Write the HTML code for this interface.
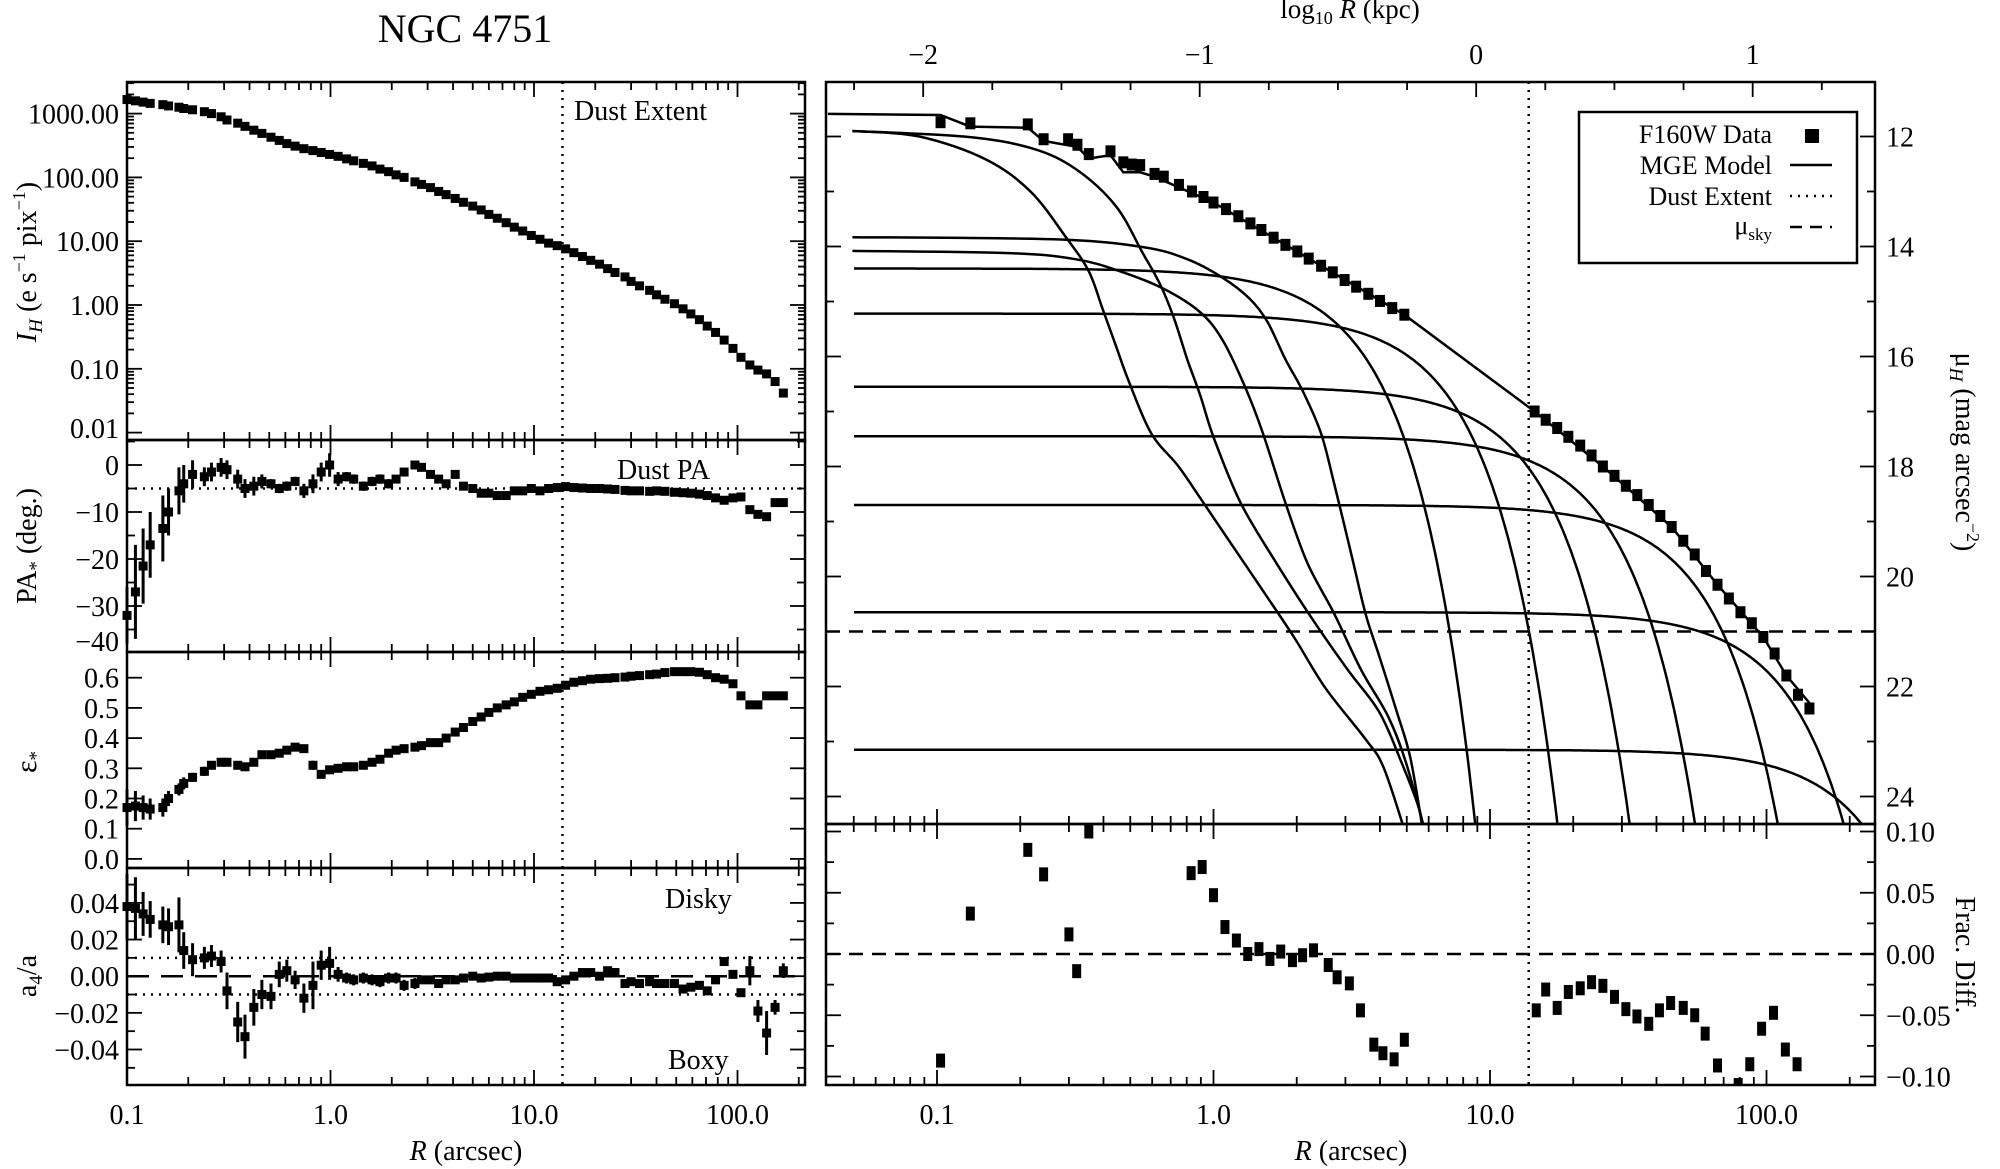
<!DOCTYPE html>
<html><head><meta charset="utf-8"><style>
html,body{margin:0;padding:0;background:#fff;}
svg{display:block;font-family:"Liberation Serif","DejaVu Serif",serif;}
</style></head><body>
<svg id="fig" xmlns="http://www.w3.org/2000/svg" width="2000" height="1169" viewBox="0 0 2000 1169">
<rect x="0" y="0" width="2000" height="1169" fill="#fff"/>
<defs>
<clipPath id="clipMu"><rect x="826" y="82" width="1049" height="742"/></clipPath>
<clipPath id="clipFrac"><rect x="826" y="824" width="1049" height="261"/></clipPath>
</defs>
<text x="465" y="42" font-size="40" text-anchor="middle">NGC 4751</text>
<text x="1350" y="18" font-size="27" text-anchor="middle">log<tspan font-size="18" dy="6">10</tspan><tspan dy="-6" font-style="italic"> R</tspan> (kpc)</text>
<text x="466" y="1160" font-size="28" text-anchor="middle"><tspan font-style="italic">R</tspan> (arcsec)</text>
<text x="1351" y="1160" font-size="28" text-anchor="middle"><tspan font-style="italic">R</tspan> (arcsec)</text>
<text transform="translate(36,262) rotate(-90)" font-size="28" text-anchor="middle"><tspan font-style="italic">I</tspan><tspan font-style="italic" font-size="19" dy="6">H</tspan><tspan dy="-6"> (e s</tspan><tspan font-size="18" dy="-11">−1</tspan><tspan dy="11"> pix</tspan><tspan font-size="18" dy="-11">−1</tspan><tspan dy="11">)</tspan></text>
<text transform="translate(36,546) rotate(-90)" font-size="28" text-anchor="middle">PA<tspan font-size="19" dy="6">*</tspan><tspan dy="-6"> (deg.)</tspan></text>
<text transform="translate(36,762) rotate(-90)" font-size="30" text-anchor="middle">ε<tspan font-size="19" dy="6">*</tspan></text>
<text transform="translate(36,976) rotate(-90)" font-size="28" text-anchor="middle">a<tspan font-size="19" dy="6">4</tspan><tspan dy="-6">/a</tspan></text>
<text transform="translate(1956,452) rotate(90)" font-size="28" text-anchor="middle">μ<tspan font-style="italic" font-size="19" dy="6">H</tspan><tspan dy="-6"> (mag arcsec</tspan><tspan font-size="18" dy="-11">−2</tspan><tspan dy="11">)</tspan></text>
<text transform="translate(1956,955) rotate(90)" font-size="28" text-anchor="middle">Frac. Diff.</text>
<text x="574" y="120" font-size="28">Dust Extent</text>
<text x="617" y="479" font-size="28">Dust PA</text>
<text x="665" y="908" font-size="28">Disky</text>
<text x="668" y="1069" font-size="28">Boxy</text>
<g id="plot"></g>
<g>
<rect x="1579" y="112" width="278" height="151" fill="#fff" stroke="#000" stroke-width="2.5"/>
<text x="1772" y="143" font-size="26" text-anchor="end">F160W Data</text>
<rect x="1805" y="129" width="14" height="14" fill="#000"/>
<text x="1772" y="174" font-size="26" text-anchor="end">MGE Model</text>
<line x1="1790" y1="165" x2="1832" y2="165" stroke="#000" stroke-width="2.5"/>
<text x="1772" y="205" font-size="26" text-anchor="end">Dust Extent</text>
<line x1="1790" y1="196" x2="1832" y2="196" stroke="#000" stroke-width="2.5" stroke-dasharray="2,6"/>
<text x="1772" y="234" font-size="26" text-anchor="end">μ<tspan font-size="17" dy="6">sky</tspan></text>
<line x1="1790" y1="227" x2="1832" y2="227" stroke="#000" stroke-width="2.5" stroke-dasharray="12,8"/>
</g>
</svg>
<script>
// ---------- data ----------
const radii = [0.10,0.11,0.12,0.13,0.15,0.16,0.18,0.19,0.21,0.24,0.26,0.29,0.31,0.35,0.38,0.42,0.46,0.51,0.56,0.61,0.67,0.74,0.82,0.90,0.99,1.09,1.2,1.3,1.45,1.6,1.75,1.93,2.1,2.3,2.6,2.8,3.1,3.4,3.7,4.1,4.5,5.0,5.5,6.0,6.6,7.3,8.0,8.8,9.7,10.7,11.8,13,14.3,15.7,17.3,19,21,23,25,28,30,33,37,40,44,49,54,59,65,71,78,86,95,104,115,126,139,153,168];
const intensityLog10 = [3.22,3.20,3.18,3.16,3.14,3.12,3.10,3.08,3.06,3.03,3.00,2.95,2.90,2.85,2.80,2.74,2.69,2.63,2.58,2.53,2.49,2.45,2.42,2.39,2.36,2.33,2.29,2.26,2.22,2.18,2.13,2.09,2.04,2.00,1.93,1.89,1.84,1.78,1.73,1.67,1.61,1.55,1.49,1.42,1.36,1.29,1.22,1.16,1.09,1.03,0.97,0.93,0.88,0.82,0.76,0.70,0.64,0.57,0.51,0.44,0.37,0.30,0.23,0.16,0.09,0.02,-0.06,-0.14,-0.23,-0.33,-0.43,-0.55,-0.68,-0.82,-0.94,-1.02,-1.08,-1.20,-1.38];
const paValues = [-32,-27,-21.5,-17,-13.5,-10,-5.5,-4,-2,-2.5,-1.5,-0.5,-1,-3,-5,-4.5,-3.5,-4,-5,-4.5,-3.5,-5.5,-4,-1.5,0,-3,-2.5,-3,-4.5,-3.5,-3,-4,-3,-1.5,0,-0.5,-2,-3,-4,-2,-4.5,-5,-6,-6,-6.5,-6.5,-5.5,-5.5,-5,-5.5,-5,-4.8,-4.6,-4.8,-4.9,-5,-5,-5.1,-5.2,-5.4,-5.5,-5.5,-5.6,-5.5,-5.6,-5.8,-5.9,-6,-6.2,-6.5,-7,-7.5,-7,-6.8,-9.5,-10.5,-11,-8,-8];
const paErrors = [6,10,8,7,7,5,5,4,3,2,2,2,2,2,2,2,1.5,1,1,1,1,1.5,2,2,2.5,1.5,1,1,1,1,1,1,0.5,0.5,0.5,0.3,0.3,0.3,0.3,0.3,0.3,0.3,0.3,0.3,0.3,0.3,0.3,0.3,0.3,0.3,0.3,0.3,0.3,0.3,0.3,0.3,0.3,0.3,0.3,0.3,0.3,0.3,0.3,0.3,0.3,0.3,0.3,0.3,0.3,0.3,0.3,0.3,0.3,0.3,0.3,0.3,0.3,0.3,0.3];
const ellValues = [.17,.175,.17,.165,.17,.20,.23,.25,.27,.29,.31,.32,.32,.31,.305,.32,.345,.345,.35,.36,.37,.365,.31,.28,.295,.30,.305,.305,.31,.32,.33,.35,.36,.365,.37,.375,.385,.385,.40,.42,.435,.455,.47,.485,.50,.51,.52,.535,.545,.555,.56,.565,.575,.585,.59,.595,.597,.598,.60,.602,.605,.607,.61,.612,.617,.62,.62,.62,.618,.61,.60,.595,.58,.54,.51,.51,.54,.54,.54];
const ellErrors = [.06,.05,.04,.035,.03,.025,.02,.02,.015,.015,.01,.01,.01,.01,.01,.01,.01,.01,.01,.01,.008,.008,.015,.01,.008,.004,.004,.004,.004,.004,.004,.004,.004,.004,.004,.004,.004,.004,.004,.004,.004,.004,.004,.004,.004,.004,.004,.004,.004,.004,.004,.004,.004,.004,.004,.004,.004,.004,.004,.004,.004,.004,.004,.004,.004,.004,.004,.004,.004,.004,.004,.004,.004,.004,.004,.004,.004,.004,.004];
const a4Values = [.038,.037,.034,.031,.028,.027,.028,.014,.009,.010,.011,.008,-.008,-.025,-.033,-.017,-.010,-.011,.001,.003,-.002,-.012,-.005,.006,.007,.001,-.001,-.002,-.001,-.002,-.003,-.001,-.001,-.005,-.004,-.002,-.002,-.004,-.002,-.002,-.001,0,-.001,-.0005,0,0,-.001,-.001,-.001,-.001,-.001,-.003,-.002,0,.002,.002,0,.003,.002,-.004,-.003,-.004,-.003,-.004,-.004,-.004,-.007,-.006,-.005,-.008,-.002,.008,.001,-.009,.003,-.019,-.031,-.017,.003];
const a4Errors = [.018,.017,.012,.01,.01,.01,.015,.01,.009,.006,.006,.006,.01,.011,.012,.01,.008,.007,.007,.006,.005,.008,.013,.008,.009,.004,.003,.003,.003,.003,.003,.003,.003,.003,.003,.002,.002,.002,.002,.002,.002,.002,.002,.002,.002,.002,.002,.002,.002,.002,.002,.002,.002,.002,.002,.002,.002,.002,.002,.002,.002,.002,.002,.002,.002,.002,.002,.002,.002,.002,.002,.002,.002,.002,.008,.006,.012,.004,.004];
const dustExtentArcsec = 13.8;
const dustPA = -5;
const a4Band = 0.01;
const muSky = 21.0;
const kpcLogOffset = 0.95;
const dataR = [0.103,0.132,0.213,0.243,0.298,0.322,0.354,0.424,0.472,0.506,0.543,0.612,0.661,0.75,0.836,0.92,1.0,1.11,1.23,1.36,1.49,1.65,1.82,2.01,2.21,2.45,2.70,2.98,3.28,3.63,4.0,4.43,4.90,14.5,15.9,17.5,19.2,21.2,23.3,25.6,28.2,31.0,34.1,37.5,41.3,45.4,50.0,55.0,60.4,66.5,73.1,80.5,88.5,97.4,107,118,130,143];
const dataMu = [11.74,11.76,11.78,12.05,12.05,12.15,12.32,12.27,12.47,12.51,12.52,12.68,12.73,12.88,13.0,13.1,13.2,13.32,13.45,13.58,13.70,13.84,13.97,14.09,14.22,14.35,14.47,14.61,14.73,14.86,14.99,15.12,15.24,17.0,17.15,17.3,17.46,17.62,17.8,18.0,18.17,18.35,18.52,18.7,18.9,19.1,19.35,19.6,19.9,20.15,20.4,20.65,20.85,21.1,21.4,21.8,22.15,22.4];
const modelR = [0.0403,0.103,0.132,0.213,0.243,0.322,0.354,0.424,0.472,0.543,0.612,1.0,4.9,14.5,25.6,45.4,66.5,97.4,118,143];
const modelMu = [11.59,11.61,11.82,11.84,12.08,12.19,12.4,12.34,12.65,12.65,12.73,13.2,15.24,17.0,18.0,19.1,20.15,21.1,21.8,22.3];
// inner (non-Gaussian, shouldered) components: log10 R (arcsec) and mu
const innerALogR = [-1.306,-1.064,-0.822,-0.660,-0.531,-0.451,-0.402,-0.354,-0.305,-0.225,-0.128,-0.047,0.066,0.179,0.292,0.405,0.550,0.615,0.696];
const innerAMu = [11.90,12.0,12.42,13.01,13.85,14.45,15.12,15.79,16.47,17.40,17.99,18.58,19.42,20.26,21.11,22.03,22.96,23.47,24.69];
const innerBLogR = [-1.306,-0.903,-0.660,-0.499,-0.354,-0.257,-0.192,-0.144,-0.095,-0.047,0.001,0.098,0.228,0.357,0.486,0.599,0.680,0.744,0.760];
const innerBMu = [11.90,12.0,12.21,12.59,13.26,14.11,14.70,15.29,16.05,16.72,17.48,18.66,19.76,20.77,21.70,22.46,23.38,24.23,24.69];
const innerCLogR = [-1.306,-0.580,-0.257,-0.095,0.034,0.131,0.195,0.260,0.324,0.389,0.437,0.502,0.550,0.599,0.663,0.712,0.760];
const innerCMu = [13.83,13.87,14.01,14.23,14.57,14.95,15.37,16.05,16.64,17.40,18.32,19.67,20.68,21.44,22.46,23.30,24.69];
const innerDLogR = [-1.306,-0.741,-0.499,-0.338,-0.176,-0.047,0.034,0.114,0.179,0.260,0.340,0.437,0.534,0.631,0.696,0.768];
const innerDMu = [14.08,14.12,14.23,14.45,14.78,15.20,15.71,16.55,17.40,18.66,19.76,20.68,21.70,22.54,23.38,24.69];
const compMu0 = [14.40,15.22,16.55,17.45,18.7,20.65,23.15];
const compSigma = [2.05,4.24,8.36,15.3,33.6,71.4,140];
const fracR = [0.103,0.132,0.213,0.243,0.30,0.32,0.354,0.83,0.91,1.0,1.10,1.21,1.33,1.46,1.60,1.75,1.93,2.1,2.3,2.6,2.8,3.1,3.4,3.8,4.1,4.5,4.9,14.7,15.9,17.5,19.2,21.2,23.3,25.6,28.2,31,34,37.5,41,45,50,55,60,66.5,79,87,96,106,117,129];
const fracVal = [-0.087,0.033,0.085,0.065,0.016,-0.014,0.10,0.066,0.071,0.048,0.022,0.011,0,0.004,-0.004,0.002,-0.005,-0.001,0.003,-0.009,-0.019,-0.024,-0.046,-0.074,-0.081,-0.086,-0.07,-0.046,-0.029,-0.044,-0.031,-0.028,-0.023,-0.026,-0.035,-0.045,-0.051,-0.057,-0.046,-0.04,-0.044,-0.05,-0.065,-0.091,-0.107,-0.09,-0.061,-0.048,-0.078,-0.09];
const intensityTickLabels = ['0.01','0.10','1.00','10.00','100.00','1000.00'];
const intensityTickValues = [0.01,0.1,1,10,100,1000];
const paTickValues = [0,-10,-20,-30,-40];
const paTickLabels = ['0','−10','−20','−30','−40'];
const ellTickValues = [0,0.1,0.2,0.3,0.4,0.5,0.6];
const ellTickLabels = ['0.0','0.1','0.2','0.3','0.4','0.5','0.6'];
const a4TickValues = [0.04,0.02,0,-0.02,-0.04];
const a4TickLabels = ['0.04','0.02','0.00','−0.02','−0.04'];
const muTickValues = [12,14,16,18,20,22,24];
const muTickLabels = ['12','14','16','18','20','22','24'];
const fracTickValues = [0.10,0.05,0,-0.05,-0.10];
const fracTickLabels = ['0.10','0.05','0.00','−0.05','−0.10'];
const kpcTickValues = [-2,-1,0,1];
const kpcTickLabels = ['−2','−1','0','1'];
const arcsecTickValues = [0.1,1,10,100];
const arcsecTickLabels = ['0.1','1.0','10.0','100.0'];

// ---------- axes ----------
const NS='http://www.w3.org/2000/svg';
const root=document.getElementById('plot');
function mk(tag,attrs,parent){const e=document.createElementNS(NS,tag);for(const k in attrs)e.setAttribute(k,attrs[k]);parent.appendChild(e);return e;}
const L={x0:127,x1:805}, R={x0:826,x1:1875};
const xLeft=r=>127+(Math.log10(r)+1)*203.5;
const xRight=r=>937+(Math.log10(r)+1)*276.5;
const xRightLog=lg=>937+(lg+1)*276.5;
const xKpc=k=>xRight(Math.pow(10,k+kpcLogOffset));
const yInt=v=>113.6-(Math.log10(v)-3)*63.8;
const yPA=v=>465-v*4.7;
const yEll=v=>858.9-v*302;
const yA4=v=>976.2-v*1832.5;
const yMu=v=>136.5+(v-12)*55;
const yFrac=v=>954-v*1225;

function tickLine(p,x1,y1,x2,y2,name){
  const t=mk('line',{x1:x1,y1:y1,x2:x2,y2:y2,stroke:'#000','stroke-width':1.8},p);
  
  
}
function label(p,x,y,txt,anchor,name,size){
  const t=mk('text',{x:x,y:y,'font-size':size||28,'text-anchor':anchor},p);
  t.textContent=txt;
  
  
}
function frame(x0,y0,x1,y1,name){
  const r=mk('rect',{x:x0,y:y0,width:x1-x0,height:y1-y0,fill:'none',stroke:'#000','stroke-width':2.5},root);
  
  
}
function xLogTicks(xf,x0,x1,yEdge,dir,name){
  for(let d=-2;d<=2;d++)for(let m=1;m<=9;m++){const v=m*Math.pow(10,d);const x=xf(v);if(x<x0+1||x>x1-1)continue;tickLine(root,x,yEdge,x,yEdge+dir*(m===1?15:8),name);}
}
function yTicksBoth(yf,vals,y0,y1,x0,x1,len,name){
  vals.forEach(v=>{const y=yf(v);if(y<y0+1||y>y1-1)return;tickLine(root,x0,y,x0+len,y,name);tickLine(root,x1,y,x1-len,y,name);});
}
function rangeVals(a,b,s){const o=[];for(let v=a;v<=b+1e-9;v+=s)o.push(+v.toFixed(4));return o;}

// left panels
const LP=[[82,440],[440,652],[652,868],[868,1085]];
LP.forEach((p,i)=>{frame(L.x0,p[0],L.x1,p[1],'left-panel-frame-'+(i+1));xLogTicks(xLeft,L.x0,L.x1,p[1],-1,'left-x-tick');xLogTicks(xLeft,L.x0,L.x1,p[0],1,'left-x-tick');});
arcsecTickValues.forEach((v,i)=>label(root,xLeft(v),1124,arcsecTickLabels[i],'middle','left-x-tick-label'));
for(let d=-2;d<=3;d++)for(let m=1;m<=9;m++){const v=m*Math.pow(10,d);const y=yInt(v);if(y<83||y>439)continue;const len=m===1?15:7;tickLine(root,L.x0,y,L.x0+len,y,'intensity-y-tick');tickLine(root,L.x1,y,L.x1-len,y,'intensity-y-tick');}
intensityTickValues.forEach((v,i)=>label(root,119,Math.min(yInt(v)+10,438),intensityTickLabels[i],'end','intensity-y-tick-label'));
yTicksBoth(yPA,rangeVals(-40,0,10),440,652,L.x0,L.x1,15,'pa-y-tick');
yTicksBoth(yPA,rangeVals(-35,5,10),440,652,L.x0,L.x1,8,'pa-y-minor-tick');
paTickValues.forEach((v,i)=>label(root,119,Math.min(yPA(v)+10,651),paTickLabels[i],'end','pa-y-tick-label'));
yTicksBoth(yEll,rangeVals(0,0.6,0.1),652,868,L.x0,L.x1,15,'ellipticity-y-tick');
ellTickValues.forEach((v,i)=>label(root,119,yEll(v)+10,ellTickLabels[i],'end','ellipticity-y-tick-label'));
yTicksBoth(yA4,rangeVals(-0.04,0.04,0.02),868,1085,L.x0,L.x1,15,'a4-y-tick');
yTicksBoth(yA4,rangeVals(-0.05,0.05,0.02),868,1085,L.x0,L.x1,8,'a4-y-minor-tick');
a4TickValues.forEach((v,i)=>label(root,119,yA4(v)+10,a4TickLabels[i],'end','a4-y-tick-label'));

// right panels
frame(R.x0,82,R.x1,824,'mu-panel-frame');
frame(R.x0,824,R.x1,1085,'frac-panel-frame');
for(let k=-2.25;k<=1.3;k+=0.25){const x=xKpc(k);if(x<R.x0+1||x>R.x1-1)continue;const major=Math.abs(k-Math.round(k))<1e-6;tickLine(root,x,82,x,82+(major?15:8),'kpc-x-tick');}
kpcTickValues.forEach((v,i)=>label(root,xKpc(v),64,kpcTickLabels[i],'middle','kpc-x-tick-label'));
xLogTicks(xRight,R.x0,R.x1,824,-1,'right-x-tick');
xLogTicks(xRight,R.x0,R.x1,824,1,'right-x-tick');
xLogTicks(xRight,R.x0,R.x1,1085,-1,'right-x-tick');
arcsecTickValues.forEach((v,i)=>label(root,xRight(v),1124,arcsecTickLabels[i],'middle','right-x-tick-label'));
yTicksBoth(yMu,rangeVals(12,24,2),82,824,R.x0,R.x1,15,'mu-y-tick');
yTicksBoth(yMu,rangeVals(11,23,2),82,824,R.x0,R.x1,8,'mu-y-minor-tick');
muTickValues.forEach((v,i)=>label(root,1886,yMu(v)+10,muTickLabels[i],'start','mu-y-tick-label'));
yTicksBoth(yFrac,rangeVals(-0.1,0.1,0.05),824,1085,R.x0,R.x1,15,'frac-y-tick');
yTicksBoth(yFrac,rangeVals(-0.075,0.075,0.05),824,1085,R.x0,R.x1,8,'frac-y-minor-tick');
fracTickValues.forEach((v,i)=>label(root,1886,yFrac(v)+10,fracTickLabels[i],'start','frac-y-tick-label'));

// reference lines
function refLine(x1,y1,x2,y2,dash,name){
  const l=mk('line',{x1:x1,y1:y1,x2:x2,y2:y2,stroke:'#000','stroke-width':2.5,'stroke-dasharray':dash},root);
  
  
}
refLine(xLeft(dustExtentArcsec),82,xLeft(dustExtentArcsec),1085,'2,6','dust-extent-line-left');
refLine(xRight(dustExtentArcsec),82,xRight(dustExtentArcsec),1085,'2,6','dust-extent-line-right');
refLine(L.x0,yPA(dustPA),L.x1,yPA(dustPA),'2,6','dust-pa-line');
refLine(L.x0,yA4(a4Band),L.x1,yA4(a4Band),'2,6','a4-upper-band-line');
refLine(L.x0,yA4(-a4Band),L.x1,yA4(-a4Band),'2,6','a4-lower-band-line');
refLine(L.x0,yA4(0),L.x1,yA4(0),'22,12','a4-zero-line');
refLine(R.x0,yMu(muSky),R.x1,yMu(muSky),'14,9','sky-level-line');
refLine(R.x0,yFrac(0),R.x1,yFrac(0),'14,9','frac-zero-line');

// markers
function square(x,y,w,h,name){
  const s=mk('rect',{x:x-w/2,y:y-h/2,width:w,height:h,fill:'#000'},root);
  
  
}
function errBar(x,y1,y2,name){
  const l=mk('line',{x1:x,y1:y1,x2:x,y2:y2,stroke:'#000','stroke-width':3},root);
  
  
}
radii.forEach((r,i)=>{square(xLeft(r),yInt(Math.pow(10,intensityLog10[i])),9,9,'intensity-point');});
radii.forEach((r,i)=>{const x=xLeft(r);errBar(x,Math.min(yPA(paValues[i]+paErrors[i]),651),Math.min(yPA(paValues[i]-paErrors[i]),651),'pa-error-bar');square(x,yPA(paValues[i]),9,9,'pa-point');});
radii.forEach((r,i)=>{const x=xLeft(r);errBar(x,yEll(ellValues[i]+ellErrors[i]),yEll(ellValues[i]-ellErrors[i]),'ellipticity-error-bar');square(x,yEll(ellValues[i]),9,9,'ellipticity-point');});
radii.forEach((r,i)=>{const x=xLeft(r);errBar(x,yA4(a4Values[i]+a4Errors[i]),yA4(a4Values[i]-a4Errors[i]),'a4-error-bar');square(x,yA4(a4Values[i]),9,9,'a4-point');});

// MGE components
const gMu=mk('g',{'clip-path':'url(#clipMu)'},root);


function smoothPath(xs,ys){
  let d='M'+xs[0].toFixed(1)+','+ys[0].toFixed(1);
  for(let i=0;i<xs.length-1;i++){
    const x0=xs[Math.max(i-1,0)],y0=ys[Math.max(i-1,0)],x1=xs[i],y1=ys[i],x2=xs[i+1],y2=ys[i+1],x3=xs[Math.min(i+2,xs.length-1)],y3=ys[Math.min(i+2,ys.length-1)];
    d+=' C'+(x1+(x2-x0)/6).toFixed(1)+','+(y1+(y2-y0)/6).toFixed(1)+' '+(x2-(x3-x1)/6).toFixed(1)+','+(y2-(y3-y1)/6).toFixed(1)+' '+x2.toFixed(1)+','+y2.toFixed(1);
  }
  return d;
}
[[innerALogR,innerAMu],[innerBLogR,innerBMu],[innerCLogR,innerCMu],[innerDLogR,innerDMu]].forEach(c=>{
  const p=mk('path',{d:smoothPath(c[0].map(xRightLog),c[1].map(yMu)),fill:'none',stroke:'#000','stroke-width':2.5},gMu);
  
  
});
compMu0.forEach((m0,i)=>{
  const pts=[];
  for(let lg=-1.3;lg<=2.45;lg+=0.005){const r=Math.pow(10,lg);const mu=m0+1.0857*(r*r)/(2*compSigma[i]*compSigma[i]);pts.push(xRight(r).toFixed(1)+','+yMu(Math.min(mu,26)).toFixed(1));if(mu>26)break;}
  const p=mk('polyline',{points:pts.join(' '),fill:'none',stroke:'#000','stroke-width':2.5},gMu);
  
  
});
const mp=mk('polyline',{points:modelR.map((r,i)=>xRight(r).toFixed(1)+','+yMu(modelMu[i]).toFixed(1)).join(' '),fill:'none',stroke:'#000','stroke-width':2.5},gMu);


dataR.forEach((r,i)=>square(xRight(r),yMu(dataMu[i]),10,12,'f160w-data-point'));
const gF=mk('g',{'clip-path':'url(#clipFrac)'},root);


fracR.forEach((r,i)=>{const s=mk('rect',{x:xRight(r)-4.5,y:yFrac(fracVal[i])-7,width:9,height:14,fill:'#000'},gF);
  
  });
</script>
</body></html>
